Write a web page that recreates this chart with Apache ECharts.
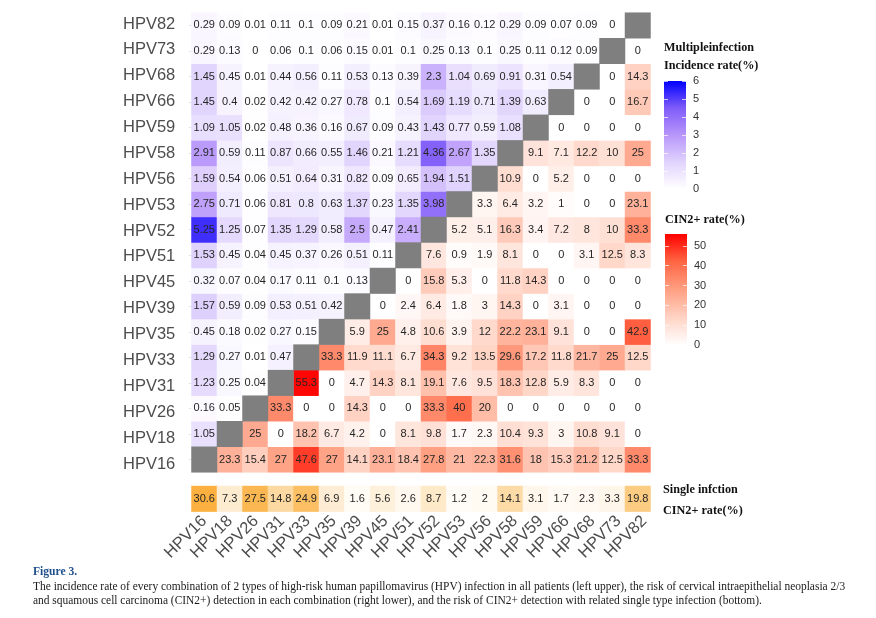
<!DOCTYPE html>
<html>
<head>
<meta charset="utf-8">
<style>
  html, body { margin: 0; background: #fff; }
  #chart { width: 876px; height: 618px; }
</style>
</head>
<body>
<div id="chart"></div>
<script src="https://cdn.jsdelivr.net/npm/echarts@6/dist/echarts.min.js"></script>
<script>
const categories = ['HPV16', 'HPV18', 'HPV26', 'HPV31', 'HPV33', 'HPV35', 'HPV39', 'HPV45', 'HPV51', 'HPV52', 'HPV53', 'HPV56', 'HPV58', 'HPV59', 'HPV66', 'HPV68', 'HPV73', 'HPV82']

// one row per type, columns follow categories, null is the grey diagonal
const hpv16 = [null, 23.3, 15.4, 27, 47.6, 27, 14.1, 23.1, 18.4, 27.8, 21, 22.3, 31.6, 18, 15.3, 21.2, 12.5, 33.3]
const hpv18 = [1.05, null, 25, 0, 18.2, 6.7, 4.2, 0, 8.1, 9.8, 1.7, 2.3, 10.4, 9.3, 3, 10.8, 9.1, 0]
const hpv26 = [0.16, 0.05, null, 33.3, 0, 0, 14.3, 0, 0, 33.3, 40, 20, 0, 0, 0, 0, 0, 0]
const hpv31 = [1.23, 0.25, 0.04, null, 55.3, 0, 4.7, 14.3, 8.1, 19.1, 7.6, 9.5, 18.3, 12.8, 5.9, 8.3, 0, 0]
const hpv33 = [1.29, 0.27, 0.01, 0.47, null, 33.3, 11.9, 11.1, 6.7, 34.3, 9.2, 13.5, 29.6, 17.2, 11.8, 21.7, 25, 12.5]
const hpv35 = [0.45, 0.18, 0.02, 0.27, 0.15, null, 5.9, 25, 4.8, 10.6, 3.9, 12, 22.2, 23.1, 9.1, 0, 0, 42.9]
const hpv39 = [1.57, 0.59, 0.09, 0.53, 0.51, 0.42, null, 0, 2.4, 6.4, 1.8, 3, 14.3, 0, 3.1, 0, 0, 0]
const hpv45 = [0.32, 0.07, 0.04, 0.17, 0.11, 0.1, 0.13, null, 0, 15.8, 5.3, 0, 11.8, 14.3, 0, 0, 0, 0]
const hpv51 = [1.53, 0.45, 0.04, 0.45, 0.37, 0.26, 0.51, 0.11, null, 7.6, 0.9, 1.9, 8.1, 0, 0, 3.1, 12.5, 8.3]
const hpv52 = [5.25, 1.25, 0.07, 1.35, 1.29, 0.58, 2.5, 0.47, 2.41, null, 5.2, 5.1, 16.3, 3.4, 7.2, 8, 10, 33.3]
const hpv53 = [2.75, 0.71, 0.06, 0.81, 0.8, 0.63, 1.37, 0.23, 1.35, 3.98, null, 3.3, 6.4, 3.2, 1, 0, 0, 23.1]
const hpv56 = [1.59, 0.54, 0.06, 0.51, 0.64, 0.31, 0.82, 0.09, 0.65, 1.94, 1.51, null, 10.9, 0, 5.2, 0, 0, 0]
const hpv58 = [2.91, 0.59, 0.11, 0.87, 0.66, 0.55, 1.46, 0.21, 1.21, 4.36, 2.67, 1.35, null, 9.1, 7.1, 12.2, 10, 25]
const hpv59 = [1.09, 1.05, 0.02, 0.48, 0.36, 0.16, 0.67, 0.09, 0.43, 1.43, 0.77, 0.59, 1.08, null, 0, 0, 0, 0]
const hpv66 = [1.45, 0.4, 0.02, 0.42, 0.42, 0.27, 0.78, 0.1, 0.54, 1.69, 1.19, 0.71, 1.39, 0.63, null, 0, 0, 16.7]
const hpv68 = [1.45, 0.45, 0.01, 0.44, 0.56, 0.11, 0.53, 0.13, 0.39, 2.3, 1.04, 0.69, 0.91, 0.31, 0.54, null, 0, 14.3]
const hpv73 = [0.29, 0.13, 0, 0.06, 0.1, 0.06, 0.15, 0.01, 0.1, 0.25, 0.13, 0.1, 0.25, 0.11, 0.12, 0.09, null, 0]
const hpv82 = [0.29, 0.09, 0.01, 0.11, 0.1, 0.09, 0.21, 0.01, 0.15, 0.37, 0.16, 0.12, 0.29, 0.09, 0.07, 0.09, 0, null]
const rows = [hpv16, hpv18, hpv26, hpv31, hpv33, hpv35, hpv39, hpv45, hpv51, hpv52, hpv53, hpv56, hpv58, hpv59, hpv66, hpv68, hpv73, hpv82]

const singleRate = [30.6, 7.3, 27.5, 14.8, 24.9, 6.9, 1.6, 5.6, 2.6, 8.7, 1.2, 2, 14.1, 3.1, 1.7, 2.3, 3.3, 19.8]

const blueTicks = [0, 1, 2, 3, 4, 5, 6]
const redTicks = [0, 10, 20, 30, 40, 50]
const blueMax = 6
const redMax = 56

const blueColors = ['#ffffff', '#e0d3fd', '#b896fb', '#7f5cf8', '#0000ff']
const redColors = ['#ffffff', '#ffd3c4', '#ff9f82', '#ff6644', '#ff0000']
const orangeColors = ['#ffffff', '#fbb03f']

const incidence = []
const cin = []
const diagonal = []
rows.forEach((row, r) => {
  row.forEach((v, c) => {
    if (c < r) incidence.push([c, r, v])
    else if (c > r) cin.push([c, r, v])
    else diagonal.push([c, r, 0])
  })
})
const single = singleRate.map((v, c) => [c, 0, v])

const cellLabel = {
  show: true,
  fontSize: 11,
  fontFamily: 'Liberation Sans',
  color: '#262626',
  formatter: (p) => String(p.value[2]),
}

const heat = (name, data, xAxisIndex, yAxisIndex) => ({
  name,
  type: 'heatmap',
  data,
  xAxisIndex,
  yAxisIndex,
  label: cellLabel,
  emphasis: { disabled: true },
  progressive: 0,
})

const gradient = (colors) => ({
  type: 'linear',
  x: 0,
  y: 0,
  x2: 0,
  y2: 1,
  colorStops: colors.map((color, i) => ({ offset: 1 - i / (colors.length - 1), color })),
})

const colorbarAxes = (gridIndex, max, ticks) => {
  const tick = { show: true, inside: true, length: 4, customValues: ticks, lineStyle: { color: 'rgba(255,255,255,0.7)', width: 1 } }
  return [
    {
      type: 'value',
      gridIndex,
      min: 0,
      max,
      position: 'left',
      z: 5,
      axisLine: { show: false },
      axisTick: tick,
      axisLabel: { show: false },
      splitLine: { show: false },
    },
    {
      type: 'value',
      gridIndex,
      min: 0,
      max,
      position: 'right',
      z: 5,
      axisLine: { show: false },
      axisTick: tick,
      axisLabel: {
        show: true,
        customValues: ticks,
        margin: 7,
        fontSize: 11,
        fontFamily: 'Liberation Sans',
        color: '#333',
      },
      splitLine: { show: false },
    },
  ]
}

const colorbar = (data, colors, xAxisIndex, yAxisIndex) => ({
  type: 'bar',
  data,
  xAxisIndex,
  yAxisIndex,
  barWidth: '100%',
  silent: true,
  itemStyle: { color: gradient(colors) },
})

const legendTitle = (text, left, top) => ({
  text,
  left,
  top,
  padding: 0,
  textStyle: { fontFamily: 'Liberation Serif', fontWeight: 'bold', fontSize: 12.2, color: '#111' },
})

const captionLine = (text, top) => ({
  text,
  left: 33,
  top,
  padding: 0,
  textStyle: { fontFamily: 'Liberation Serif', fontWeight: 'normal', fontSize: 11.45, color: '#1a1a1a' },
})

const hiddenCategory = (gridIndex) => ({
  type: 'category',
  gridIndex,
  data: [''],
  show: false,
})

const myChart = echarts.init(document.getElementById('chart'))
myChart.setOption({
  animation: false,
  backgroundColor: '#fff',
  title: [
    legendTitle('Multipleinfection', 664, 42),
    legendTitle('Incidence rate(%)', 664, 60),
    legendTitle('CIN2+ rate(%)', 665, 214),
    legendTitle('Single infction', 663, 484),
    legendTitle('CIN2+ rate(%)', 663, 505),
    {
      text: 'Figure 3.',
      left: 33,
      top: 566,
      padding: 0,
      textStyle: { fontFamily: 'Liberation Serif', fontWeight: 'bold', fontSize: 11.6, color: '#1f4e8c' },
    },
    captionLine('The incidence rate of every combination of 2 types of high-risk human papillomavirus (HPV) infection in all patients (left upper), the risk of cervical intraepithelial neoplasia 2/3', 581),
    captionLine('and squamous cell carcinoma (CIN2+) detection in each combination (right lower), and the risk of CIN2+ detection with related single type infection (bottom).', 595),
  ],
  grid: [
    { left: 191.5, top: 12.7, width: 459, height: 459.6 },
    { left: 191.5, top: 486, width: 459, height: 25.6 },
    { left: 664, top: 81, width: 22, height: 108 },
    { left: 665, top: 234, width: 22, height: 111 },
    // the tick labels in the picture sit on a slightly wider pitch than the cells
    { left: 191.3, top: 11.06, width: 466, height: 465.9 },
  ],
  xAxis: [
    {
      type: 'category',
      gridIndex: 0,
      data: categories,
      axisLine: { show: false },
      axisTick: { show: false },
      axisLabel: { show: false },
      splitLine: { show: false },
    },
    {
      type: 'category',
      gridIndex: 1,
      data: categories,
      axisLine: { show: false },
      axisTick: { show: false },
      axisLabel: { show: false },
    },
    hiddenCategory(2),
    hiddenCategory(3),
    {
      type: 'category',
      gridIndex: 4,
      data: categories,
      axisLine: { show: false },
      axisTick: { show: false },
      axisLabel: {
        interval: 0,
        rotate: 45,
        margin: 41.6,
        fontSize: 16.5,
        fontFamily: 'Liberation Sans',
        color: '#4d4d4d',
      },
    },
  ],
  yAxis: [
    {
      type: 'category',
      gridIndex: 0,
      data: categories,
      axisLine: { show: false },
      axisTick: { show: true, length: 3, alignWithLabel: true, lineStyle: { color: '#e6e6e6' } },
      axisLabel: { show: false },
      splitLine: { show: false },
    },
    {
      type: 'category',
      gridIndex: 1,
      data: [''],
      show: false,
    },
    ...colorbarAxes(2, blueMax, blueTicks),
    ...colorbarAxes(3, redMax, redTicks),
    {
      type: 'category',
      gridIndex: 4,
      data: categories,
      axisLine: { show: false },
      axisTick: { show: false },
      axisLabel: {
        interval: 0,
        margin: 16,
        fontSize: 16.5,
        fontFamily: 'Liberation Sans',
        color: '#4d4d4d',
      },
      splitLine: { show: false },
    },
  ],
  visualMap: [
    { type: 'continuous', show: false, seriesIndex: 0, dimension: 2, min: 0, max: blueMax, inRange: { color: blueColors } },
    { type: 'continuous', show: false, seriesIndex: 1, dimension: 2, min: 0, max: redMax, inRange: { color: redColors } },
    { type: 'continuous', show: false, seriesIndex: 3, dimension: 2, min: 0, max: 30.6, inRange: { color: orangeColors } },
  ],
  series: [
    heat('Incidence', incidence, 0, 0),
    heat('CIN2+', cin, 0, 0),
    {
      name: 'Same type',
      type: 'heatmap',
      data: diagonal,
      xAxisIndex: 0,
      yAxisIndex: 0,
      itemStyle: { color: '#7f7f7f' },
      emphasis: { disabled: true },
    },
    heat('Single infection', single, 1, 1),
    colorbar([blueMax], blueColors, 2, 2),
    colorbar([redMax], redColors, 3, 4),
  ],
})
</script>
</body>
</html>
